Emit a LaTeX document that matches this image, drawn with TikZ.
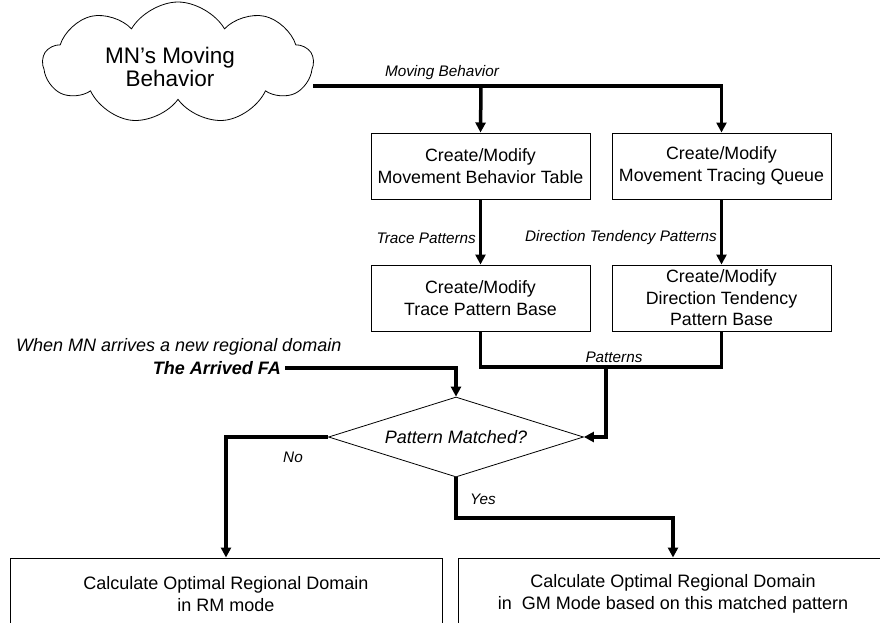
\documentclass[tikz,border=0pt]{standalone}
\usepackage{fontspec}
\setmainfont{Liberation Sans}
\usetikzlibrary{arrows.meta,shapes.geometric,shapes.symbols}

\begin{document}
\begin{tikzpicture}[x=1pt,y=-1pt,
  box/.style={draw,line width=1pt,minimum width=219pt,minimum height=66pt,inner sep=0pt,
    align=center,font=\fontsize{17.8}{21.5}\selectfont},
  conn/.style={line width=3.5pt,line join=miter},
  arr/.style={conn,-{Triangle[length=10pt,width=10pt]}},
  lbl/.style={font=\fontsize{15.3}{18}\selectfont\itshape,inner sep=0pt},
  biglbl/.style={font=\fontsize{18}{21}\selectfont\itshape,inner sep=0pt},
]
\clip (0,0) rectangle (880,622);

% source of the behaviour data
\node[cloud,draw,line width=0.8pt,cloud puffs=9,cloud puff arc=120,cloud ignores aspect,
      minimum width=270pt,minimum height=122pt,inner sep=0pt] (mn) at (178,63) {};
\node[align=center,inner sep=0pt,font=\fontsize{22.5}{23.5}\selectfont] (mntext) at (170,67)
  {MN’s Moving\\Behavior};

% processing boxes
\node[box] (mbt) at (480.5,166) {Create/Modify\\Movement Behavior Table};
\node[box] (mtq) at (721.5,166) {Create/Modify\\Movement Tracing Queue};
\node[box] (tpb) at (480.5,298) {Create/Modify\\Trace Pattern Base};
\node[box] (dtp) at (721.5,298) {Create/Modify\\Direction Tendency\\Pattern Base};

% decision
\node[diamond,draw,line width=0.8pt,aspect=3.19,minimum width=255pt,minimum height=80pt,
      inner sep=0pt,font=\fontsize{18}{21}\selectfont\itshape] (pm) at (456,437) {Pattern Matched?};

% results
\node[box,minimum width=432pt,minimum height=72pt,font=\fontsize{18}{21.5}\selectfont] (rm) at (226,594)
  {Calculate Optimal Regional Domain\\in RM mode};
\node[box,minimum width=430pt,minimum height=72pt,font=\fontsize{18}{21.5}\selectfont] (gm) at (673,594)
  {Calculate Optimal Regional Domain\\in\ \ GM Mode based on this matched pattern};

% external input
\node[biglbl,anchor=west] (when) at (16,347) {When MN arrives a new regional domain};
\node[font=\fontsize{18}{21}\selectfont\bfseries\itshape,inner sep=0pt,anchor=east] (fa) at (281,368) {The Arrived FA};

% junction points
\coordinate (mbstart) at (313,86);
\coordinate (mbsplit) at (481,86);
\coordinate (pj) at (606,367);
\coordinate (yk) at (456,518);

% connectors
\draw[arr] (mbstart) -| (mtq.north);
\draw[arr] (mbsplit) -- (mbt.north);
\draw[arr] (mbt.south) -- (tpb.north);
\draw[arr] (mtq.south) -- (dtp.north);
\draw[conn] (tpb.south) |- (pj) -| (dtp.south);
\draw[arr] (pj) |- (pm.east);
\draw[arr] ([xshift=4pt]fa.east) -| (pm.north);
\draw[arr] (pm.west) -| (rm.north);
\draw[arr] (pm.south) -- (yk) -| (gm.north);

% connector labels
\node[lbl] (lmb) at (442,73) {Moving Behavior};
\node[lbl,anchor=east] (ltp) at (476,238) {Trace Patterns};
\node[lbl,anchor=east] (ldt) at (717,238) {Direction Tendency Patterns};
\node[lbl] (lpt) at (614,357) {Patterns};
\node[lbl] (lno) at (293,457) {No};
\node[lbl] (lyes) at (483,499) {Yes};
\end{tikzpicture}
\end{document}
